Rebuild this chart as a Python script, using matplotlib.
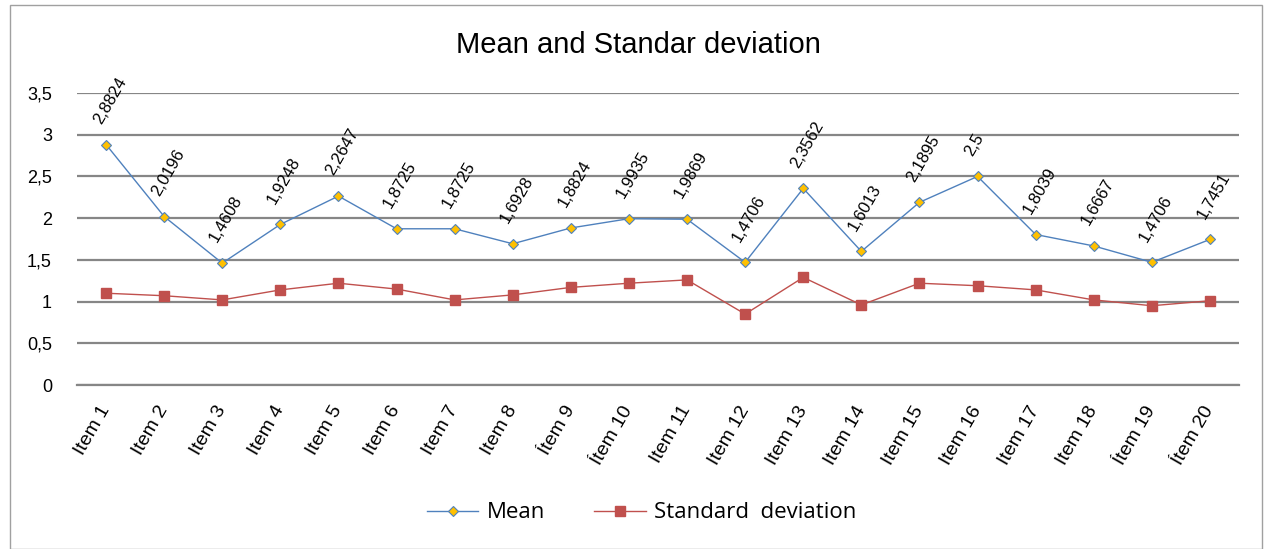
import matplotlib.pyplot as plt
from matplotlib.patches import Rectangle

# Data
items = ["Item 1", "Item 2", "Item 3", "Item 4", "Item 5", "Item 6", "Item 7",
         "Item 8", "Ítem 9", "Ítem 10", "Item 11", "Item 12", "Item 13", "Item 14",
         "Item 15", "Item 16", "Item 17", "Item 18", "Ítem 19", "Ítem 20"]
mean = [2.8824, 2.0196, 1.4608, 1.9248, 2.2647, 1.8725, 1.8725, 1.6928, 1.8824, 1.9935,
        1.9869, 1.4706, 2.3562, 1.6013, 2.1895, 2.5, 1.8039, 1.6667, 1.4706, 1.7451]
std = [1.10, 1.07, 1.02, 1.14, 1.22, 1.15, 1.02, 1.08, 1.17, 1.22,
       1.26, 0.85, 1.29, 0.96, 1.22, 1.19, 1.14, 1.02, 0.95, 1.01]
yticks = [0, 0.5, 1, 1.5, 2, 2.5, 3, 3.5]

fig = plt.figure(figsize=(12.67, 5.49), dpi=100)
ax = fig.add_axes([77 / 1267, 1 - 385 / 549, (1239 - 77) / 1267, (385 - 93) / 549])

x = list(range(len(items)))
ax.plot(x, mean, color="#4F81BD", lw=1, marker="D", ms=5.5, mfc="#FFC000",
        mec="#4F81BD", mew=0.8, label="Mean", zorder=3)
ax.plot(x, std, color="#C0504D", lw=1, marker="s", ms=6.5, mfc="#C0504D",
        mec="#C0504D", label="Standard  deviation", zorder=3)

# value labels on the mean series
for xi, v in zip(x, mean):
    txt = f"{v:g}".replace(".", ",")
    ax.annotate(txt, (xi, v), xytext=(-9, 22), textcoords="offset pixels",
                rotation=60, ha="left", va="center", rotation_mode="anchor",
                fontsize=12, family="Liberation Sans", annotation_clip=False)

ax.set_xlim(-0.5, 19.5)
ax.set_ylim(0, 3.5)
ax.set_yticks(yticks)
ax.set_yticklabels([f"{t:g}".replace(".", ",") for t in yticks],
                   fontsize=13, family="Liberation Sans")
ax.set_xticks(x)
ax.set_xticklabels(items, rotation=60, ha="right", va="center",
                   rotation_mode="anchor", fontsize=14, family="Liberation Sans")
ax.tick_params(length=0)
ax.tick_params(axis="x", pad=16)
ax.tick_params(axis="y", pad=18)
ax.yaxis.grid(True, color="#868686", lw=1.6)
ax.set_axisbelow(True)
for s in ["left", "right", "top"]:
    ax.spines[s].set_visible(False)
ax.spines["bottom"].set_color("#868686")
ax.spines["bottom"].set_linewidth(1.6)

fig.text(638 / 1267, 1 - 45 / 549, "Mean and Standar deviation", ha="center",
         va="center", fontsize=21, family="Liberation Sans")

fig.legend(loc="center", bbox_to_anchor=(642 / 1267, 1 - 513 / 549), ncol=2,
           frameon=False, handlelength=2.3, columnspacing=2.2, handletextpad=0.4,
           prop={"family": "Open Sans", "size": 16})

fig.patches.append(Rectangle((10 / 1267, 0), 1252 / 1267, 1 - 5 / 549,
                             transform=fig.transFigure, fill=False,
                             edgecolor="#A0A0A0", lw=1))

fig.savefig("out.png", dpi=100)
